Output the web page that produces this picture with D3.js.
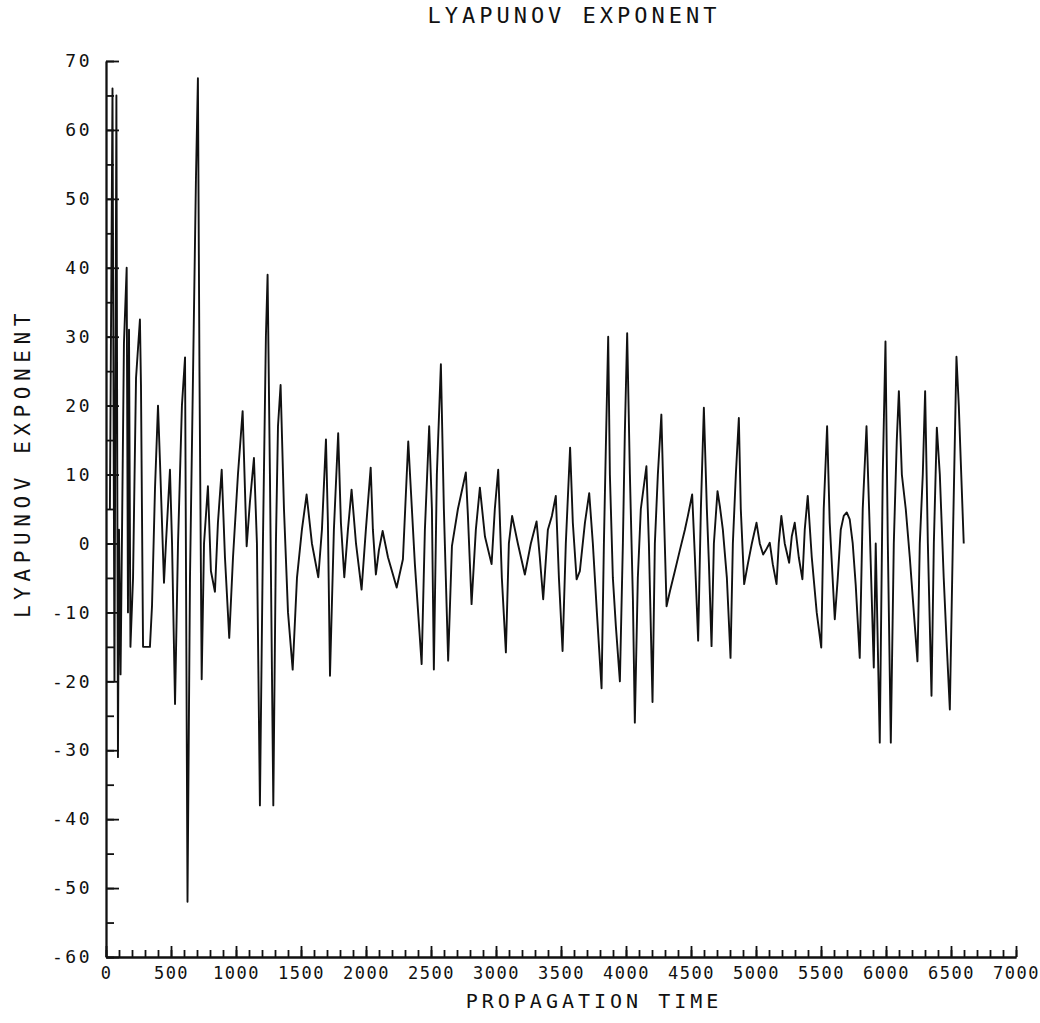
<!DOCTYPE html>
<html>
<head>
<meta charset="utf-8">
<script src="https://cdn.jsdelivr.net/npm/d3@7"></script>
<style>
    body { margin: 0; background: #fff; }
    text { font-family: "DejaVu Sans Mono", monospace; fill: #111; }
</style>
</head>
<body>
<svg id="chart" width="1040" height="1023"></svg>
<script>
// propagation time of each plotted point
const propagationTime = [
    30, 50, 65, 80, 92, 100, 112, 138, 159, 169,
    177, 188, 208, 231, 261, 269, 285, 338, 354, 377,
    400, 415, 446, 461, 492, 508, 531, 554, 584, 608,
    627, 646, 669, 692, 707, 719, 736, 754, 784, 807,
    838, 861, 890, 915, 948, 977, 1015, 1051, 1082, 1107,
    1138, 1161, 1184, 1207, 1230, 1243, 1261, 1287, 1307, 1323,
    1343, 1369, 1400, 1436, 1469, 1507, 1543, 1584, 1633, 1661,
    1692, 1707, 1723, 1753, 1786, 1807, 1833, 1861, 1889, 1923,
    1966, 1999, 2036, 2053, 2076, 2099, 2128, 2169, 2236, 2284,
    2325, 2353, 2376, 2428, 2453, 2486, 2507, 2522, 2545, 2576,
    2599, 2632, 2661, 2707, 2768, 2784, 2812, 2845, 2876, 2915,
    2966, 2991, 3017, 3045, 3076, 3099, 3124, 3168, 3222, 3268,
    3312, 3337, 3363, 3399, 3430, 3460, 3484, 3512, 3537, 3570,
    3591, 3620, 3645, 3684, 3717, 3745, 3776, 3812, 3830, 3845,
    3863, 3876, 3899, 3922, 3953, 3976, 3991, 4009, 4030, 4053,
    4068, 4091, 4114, 4157, 4176, 4204, 4222, 4245, 4272, 4291,
    4312, 4337, 4376, 4414, 4453, 4476, 4509, 4530, 4555, 4576,
    4599, 4622, 4638, 4658, 4676, 4704, 4722, 4745, 4776, 4804,
    4822, 4845, 4868, 4883, 4909, 4937, 4968, 5004, 5029, 5055,
    5075, 5106, 5129, 5158, 5175, 5195, 5221, 5255, 5275, 5298,
    5329, 5357, 5375, 5398, 5429, 5467, 5502, 5521, 5547, 5567,
    5606, 5629, 5652, 5675, 5698, 5721, 5744, 5767, 5798, 5821,
    5850, 5875, 5906, 5921, 5952, 5975, 5996, 6014, 6037, 6060,
    6083, 6099, 6122, 6152, 6183, 6214, 6242, 6260, 6283, 6301,
    6322, 6350, 6368, 6391, 6414, 6444, 6468, 6491, 6514, 6542,
    6560, 6575, 6598
];

// lyapunov exponent, same order as above
const lyapunovExponent = [
    5, 66, -20, 65, -31, 2, -19, 29, 40, -10,
    31, -15, -5, 24, 32.5, 23, -15, -15, -9, 8,
    20, 12, -5.7, 0, 10.7, 0, -23.3, 0, 20, 27,
    -52, -5, 24, 53, 67.5, 25, -19.7, 0, 8.3, -4,
    -7, 3, 10.7, -2, -13.7, -2, 10, 19.2, -0.4, 6,
    12.4, 0, -38, 0, 30, 39, 10, -38, 0, 17,
    23, 5, -10, -18.3, -5, 2, 7.1, 0, -4.9, 2,
    15.1, 3, -19.2, 2, 16, 3, -4.9, 2, 7.8, 0,
    -6.7, 2, 11, 2, -4.5, -1, 1.8, -2, -6.4, -2.3,
    14.8, 5, -3, -17.5, 2, 17, 5, -18.3, 10, 26,
    5, -17, -0.4, 5, 10.3, 4, -8.8, 2, 8.1, 1,
    -3, 5, 10.7, -5, -15.8, 0, 4, 0, -4.5, 0,
    3.2, -2, -8.1, 2, 4, 6.9, -5, -15.6, 0, 13.9,
    3, -5.2, -4, 3, 7.3, 0, -10, -21, 0, 14,
    30, 10, -5, -12, -20, 0, 16, 30.5, 10, -8,
    -26, -5, 5, 11.2, 0, -23, 0, 10, 18.7, 5,
    -9.1, -7, -4, -1, 2, 4, 7.1, -2, -14.1, 5,
    19.7, 5, -3, -14.9, 0, 7.6, 5.4, 2, -5, -16.6,
    0, 10, 18.2, 5, -5.9, -3, 0, 3, 0, -1.6,
    -1, 0.1, -3, -5.9, 0, 4, 0, -2.8, 1, 3,
    -2, -5.2, 2, 6.9, -2, -10, -15.1, 5, 17, 3,
    -11, -5, 2, 4, 4.5, 3.5, 0, -6, -16.6, 5,
    17, 2, -18, 0, -28.9, 10, 29.3, 0, -28.9, 0,
    15, 22.1, 10, 5, -2, -10, -17.1, 0, 10, 22.1,
    0, -22.1, 0, 16.8, 10, -5, -15, -24.1, 0, 27.1,
    20, 12, 0
];

const xTickValues = [0, 500, 1000, 1500, 2000, 2500, 3000, 3500, 4000, 4500, 5000, 5500, 6000, 6500, 7000];
const yTickValues = [-60, -50, -40, -30, -20, -10, 0, 10, 20, 30, 40, 50, 60, 70];

const titleText = 'LYAPUNOV EXPONENT';
const xLabelText = 'PROPAGATION TIME';
const yLabelText = 'LYAPUNOV EXPONENT';

const svg = d3.select('#chart');
const ink = '#111';

const x = d3.scaleLinear().domain([0, 7000]).range([106, 1016]);
const y = d3.scaleLinear().domain([-60, 70]).range([957, 61]);

const xMinor = d3.range(0, 7001, 100);
const yMinor = d3.range(-60, 71, 5);

// minor ticks first (no labels), ticks point inward
svg.append('g')
    .attr('transform', `translate(0,${y(-60)})`)
    .call(d3.axisBottom(x).tickValues(xMinor).tickSizeInner(-7).tickSizeOuter(0).tickFormat(''));

svg.append('g')
    .attr('transform', `translate(${x(0)},0)`)
    .call(d3.axisLeft(y).tickValues(yMinor).tickSizeInner(-8).tickSizeOuter(0).tickFormat(''));

const xAxis = svg.append('g')
    .attr('transform', `translate(0,${y(-60)})`)
    .call(d3.axisBottom(x).tickValues(xTickValues).tickSizeInner(-11).tickSizeOuter(0).tickPadding(10).tickFormat(d => String(d)));

const yAxis = svg.append('g')
    .attr('transform', `translate(${x(0)},0)`)
    .call(d3.axisLeft(y).tickValues(yTickValues).tickSizeInner(-13).tickSizeOuter(0).tickPadding(14).tickFormat(d => String(d)));

svg.selectAll('.domain, .tick line')
    .attr('stroke', ink)
    .attr('stroke-width', 1.8);

xAxis.selectAll('text').attr('font-size', 17).attr('letter-spacing', 1.5).attr('fill', ink);
yAxis.selectAll('text').attr('font-size', 18).attr('letter-spacing', 2.5).attr('fill', ink);

const series = propagationTime.map((t, i) => ({ t, v: lyapunovExponent[i] }));

const line = d3.line()
    .x(d => x(d.t))
    .y(d => y(d.v));

svg.append('path')
    .datum(series)
    .attr('fill', 'none')
    .attr('stroke', ink)
    .attr('stroke-width', 1.9)
    .attr('stroke-linejoin', 'round')
    .attr('d', line);

svg.append('text')
    .attr('x', 574)
    .attr('y', 23)
    .attr('text-anchor', 'middle')
    .attr('font-size', 22)
    .attr('letter-spacing', 4)
    .text(titleText);

svg.append('text')
    .attr('x', 594)
    .attr('y', 1008)
    .attr('text-anchor', 'middle')
    .attr('font-size', 20)
    .attr('letter-spacing', 4)
    .text(xLabelText);

svg.append('text')
    .attr('transform', 'translate(30,463) rotate(-90)')
    .attr('text-anchor', 'middle')
    .attr('font-size', 21)
    .attr('letter-spacing', 5.6)
    .text(yLabelText);
</script>
</body>
</html>
